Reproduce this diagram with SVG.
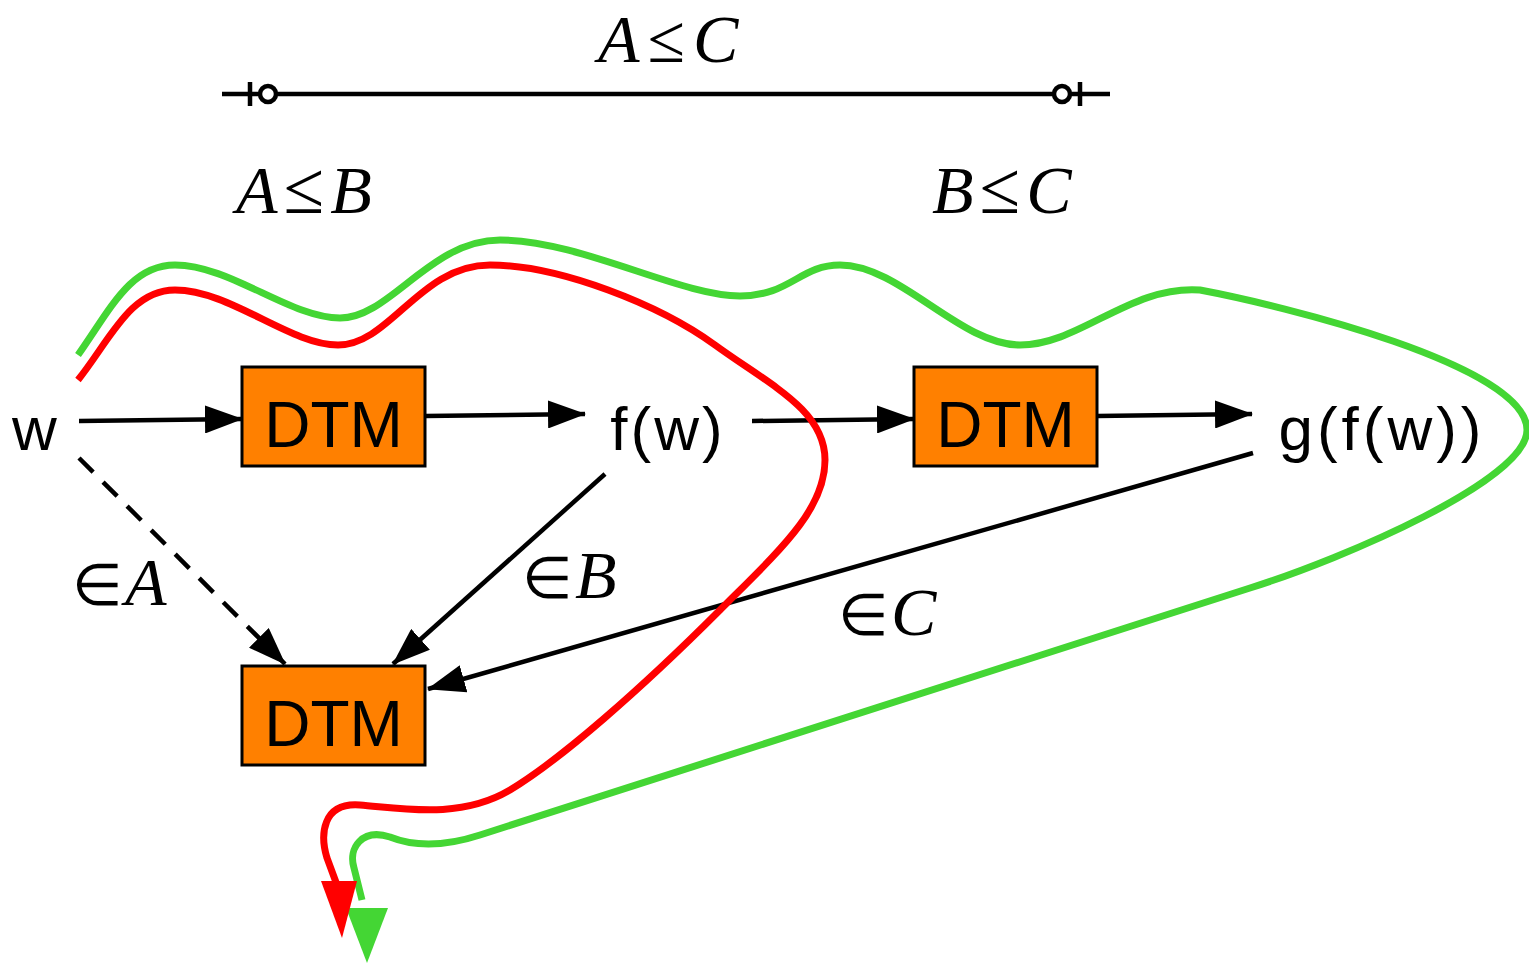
<svg xmlns="http://www.w3.org/2000/svg" width="1529" height="964" viewBox="0 0 1529 964">
<defs>
<style>
.box{fill:#FF8000;stroke:#000;stroke-width:3}
.lbl{font-family:"Liberation Sans",Arial,sans-serif;font-size:64px;fill:#000}
.node{font-family:"Liberation Sans",Arial,sans-serif;font-size:62px;fill:#000}
.math{font-family:"Liberation Serif","Times New Roman",serif;font-size:68px;fill:#000}
.it{font-style:italic}
.rel{font-size:74px}
.el{font-size:58px}
.edge{stroke:#000;stroke-width:4.5;fill:none}
.red{stroke:#FF0000;stroke-width:7;fill:none}
.green{stroke:#44D634;stroke-width:7;fill:none}
</style>
<marker id="ah" viewBox="0 0 38 28" refX="37" refY="14" markerWidth="38" markerHeight="28" markerUnits="userSpaceOnUse" orient="auto">
<path d="M0,0 L38,14 L0,28 z" fill="#000"/>
</marker>
</defs>

<g id="scale">
<line x1="222" y1="94" x2="1110" y2="94" stroke="#000" stroke-width="4.5"/>
<line x1="250" y1="82" x2="250" y2="106" stroke="#000" stroke-width="4.5"/>
<circle cx="268" cy="94" r="8" fill="#fff" stroke="#000" stroke-width="4.5"/>
<line x1="1080" y1="82" x2="1080" y2="106" stroke="#000" stroke-width="4.5"/>
<circle cx="1062" cy="94" r="8" fill="#fff" stroke="#000" stroke-width="4.5"/>
<text class="math" x="598" y="62"><tspan class="it">A</tspan><tspan dx="8">≤</tspan><tspan class="it" dx="8">C</tspan></text>
<text class="math" x="236" y="213"><tspan class="it">A</tspan><tspan class="rel" dx="6">≤</tspan><tspan class="it" dx="6">B</tspan></text>
<text class="math" x="932" y="213"><tspan class="it">B</tspan><tspan class="rel" dx="6">≤</tspan><tspan class="it" dx="6">C</tspan></text>
</g>

<g id="dtm1"><rect class="box" x="242" y="367" width="183" height="99"/><text class="lbl" x="333.5" y="447" text-anchor="middle">DTM</text></g>
<g id="dtm2"><rect class="box" x="914" y="367" width="183" height="99"/><text class="lbl" x="1005.5" y="447" text-anchor="middle">DTM</text></g>
<g id="dtm3"><rect class="box" x="242" y="666" width="183" height="99"/><text class="lbl" x="333.5" y="746" text-anchor="middle">DTM</text></g>
<g id="w"><text class="node" x="12" y="450">w</text></g>
<g id="fw"><text class="node" x="668" y="450" text-anchor="middle" letter-spacing="3">f(w)</text></g>
<g id="gfw"><text class="node" x="1382" y="450" text-anchor="middle" letter-spacing="4">g(f(w))</text></g>

<g id="connectors">
<line class="edge" x1="79" y1="421" x2="242" y2="419" marker-end="url(#ah)"/>
<line class="edge" x1="425" y1="416" x2="585" y2="414" marker-end="url(#ah)"/>
<line class="edge" x1="752" y1="421" x2="914" y2="419" marker-end="url(#ah)"/>
<line class="edge" x1="1097" y1="416" x2="1252" y2="414" marker-end="url(#ah)"/>
<line class="edge" x1="79" y1="458" x2="285" y2="664" stroke-dasharray="20,14" marker-end="url(#ah)"/>
<line class="edge" x1="605" y1="474" x2="393" y2="664" marker-end="url(#ah)"/>
<line class="edge" x1="1253" y1="453" x2="428" y2="689" marker-end="url(#ah)"/>
<text class="math" x="72" y="605"><tspan class="el">∈</tspan><tspan class="it" dx="2">A</tspan></text>
<text class="math" x="522" y="598"><tspan class="el">∈</tspan><tspan class="it" dx="2">B</tspan></text>
<text class="math" x="838" y="635"><tspan class="el">∈</tspan><tspan class="it" dx="2">C</tspan></text>

<path class="green" d="M78 355 C110 310,130 265,175 265 C230 265,290 318,340 318 C390 318,430 240,500 240 C580 240,680 296,740 296 C790 296,800 265,840 265 C900 265,960 345,1020 345 C1080 345,1130 285,1200 290 C1280 305,1527 365,1527 430 C1527 480,1345 558,1250 588 L480 835 C440 848,410 845,390 837 C362 828,348 848,354 868 L362 900"/>
<polygon points="346,908 388,908 367,963" fill="#44D634"/>
<path class="red" d="M78 380 C110 340,130 290,175 290 C230 290,290 345,338 345 C390 345,420 265,490 265 C560 265,660 305,715 345 C770 385,825 410,825 460 C825 510,780 550,720 610 C640 690,560 760,510 790 C460 820,400 808,360 805 C322 802,320 835,327 858 L337 885"/>
<polygon points="321,881 357,881 342,938" fill="#FF0000"/>
</g>
</svg>
